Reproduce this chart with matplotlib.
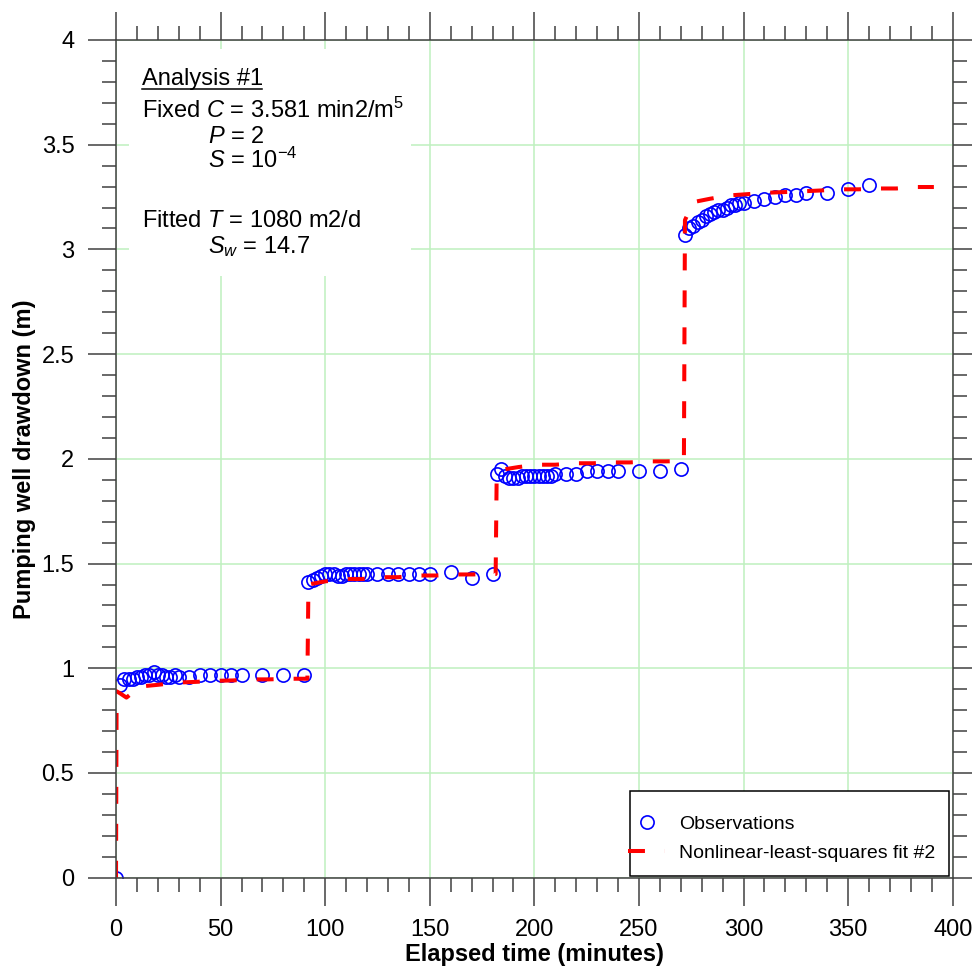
import numpy as np
import matplotlib.pyplot as plt
from matplotlib.ticker import MultipleLocator, FuncFormatter
from matplotlib.patches import Rectangle
from matplotlib.lines import Line2D

plt.rcParams['font.family'] = ['Liberation Sans', 'DejaVu Sans']
plt.rcParams['mathtext.fontset'] = 'custom'
plt.rcParams['mathtext.rm'] = 'Liberation Sans'
plt.rcParams['mathtext.it'] = 'Liberation Sans:italic'
plt.rcParams['mathtext.bf'] = 'Liberation Sans:bold'
plt.rcParams['lines.scale_dashes'] = False

# =========================
# DATA
# =========================
obs_t = [0, 2, 4, 6, 8, 10, 12, 14, 16, 18, 20, 22, 24, 26, 28, 30, 35, 40, 45, 50, 55, 60, 70, 80, 90,
         92, 94, 96, 98, 100, 102, 104, 106, 108, 110, 112, 114, 116, 118, 120, 125, 130, 135, 140, 145, 150, 160, 170, 180,
         182, 184, 186, 188, 190, 192, 194, 196, 198, 200, 202, 204, 206, 208, 210, 215, 220, 225, 230, 235, 240, 250, 260, 270,
         272, 274, 276, 278, 280, 282, 284, 286, 288, 290, 292, 294, 296, 298, 300, 305, 310, 315, 320, 325, 330, 340, 350, 360]
obs_s = [0, 0.92, 0.95, 0.95, 0.95, 0.96, 0.96, 0.97, 0.97, 0.98, 0.97, 0.97, 0.96, 0.96, 0.97, 0.96, 0.96, 0.97, 0.97, 0.97, 0.97, 0.97, 0.97, 0.97, 0.97,
         1.41, 1.42, 1.43, 1.44, 1.45, 1.45, 1.45, 1.44, 1.44, 1.45, 1.45, 1.45, 1.45, 1.45, 1.45, 1.45, 1.45, 1.45, 1.45, 1.45, 1.45, 1.46, 1.43, 1.45,
         1.93, 1.95, 1.92, 1.91, 1.91, 1.91, 1.92, 1.92, 1.92, 1.92, 1.92, 1.92, 1.92, 1.92, 1.93, 1.93, 1.93, 1.94, 1.94, 1.94, 1.94, 1.94, 1.94, 1.95,
         3.07, 3.10, 3.11, 3.13, 3.14, 3.16, 3.17, 3.18, 3.19, 3.19, 3.20, 3.21, 3.21, 3.22, 3.22, 3.23, 3.24, 3.25, 3.26, 3.26, 3.27, 3.27, 3.29, 3.31]

fit_t = [0, 0.3, 2, 5, 11.5, 20, 30, 38, 47, 56, 65, 73, 83, 91.5,
         92, 100, 109.5, 117.5, 127, 135, 144.5, 153, 162.5, 170.5, 181.5,
         182, 184.5, 192.5, 202, 210, 220, 228, 237.5, 245.5, 255.5, 263, 271.5,
         272, 276, 284, 293.5, 302, 312, 320, 329.5, 338, 347, 355, 364.5, 373, 382, 391]
fit_s = [0, 0.89, 0.88, 0.86, 0.913, 0.921, 0.932, 0.935, 0.94, 0.942, 0.947, 0.947, 0.95, 0.95,
         1.40, 1.415, 1.426, 1.426, 1.435, 1.435, 1.443, 1.443, 1.448, 1.448, 1.45,
         1.93, 1.948, 1.961, 1.972, 1.972, 1.979, 1.979, 1.983, 1.983, 1.988, 1.988, 1.99,
         3.14, 3.226, 3.242, 3.258, 3.264, 3.271, 3.274, 3.278, 3.282, 3.287, 3.287, 3.291, 3.291, 3.298, 3.298]

# =========================
# FIGURE
# =========================
W, H = 972, 973
fig = plt.figure(figsize=(W / 100, H / 100), dpi=100)
ax = fig.add_axes([116 / W, 1 - 877.7 / H, 836.7 / W, 837.7 / H])

def fx(x):
    return x / W

def fy(y):
    return 1 - y / H

ax.set_axisbelow(True)
ax.grid(True, which='major', color='#bff0bf', linewidth=1.1)

# white box behind the annotation
ax.add_patch(Rectangle((0.0155, 0.718), 0.3375, 0.271, transform=ax.transAxes,
                       facecolor='white', edgecolor='none', zorder=1))

ax.plot(obs_t, obs_s, linestyle='none', marker='o', markersize=9.5,
        markerfacecolor='none', markeredgecolor='#0000ff', markeredgewidth=1.2,
        label='Observations', zorder=3)
ax.plot(fit_t, fit_s, color='#ff0000', linewidth=2.9, dashes=(12.2, 14.4),
        dash_capstyle='butt', label='Nonlinear-least-squares fit #2', zorder=4)

ax.set_xlim(0, 400)
ax.set_ylim(0, 4)
ax.xaxis.set_major_locator(MultipleLocator(50))
ax.xaxis.set_minor_locator(MultipleLocator(10))
ax.yaxis.set_major_locator(MultipleLocator(0.5))
ax.yaxis.set_minor_locator(MultipleLocator(0.1))
ax.yaxis.set_major_formatter(FuncFormatter(lambda v, p: '%g' % v))
ax.xaxis.set_major_formatter(FuncFormatter(lambda v, p: '%g' % v))

ax.tick_params(which='both', direction='out', top=True, right=True,
               color='#404040', width=1.1, labelsize=17)
ax.tick_params(which='major', length=20, pad=10)
ax.tick_params(which='minor', length=10)
for sp in ax.spines.values():
    sp.set_color('#404040')
    sp.set_linewidth(1.1)
    sp.set_zorder(5)

ax.set_xlabel('Elapsed time (minutes)', fontsize=17, fontweight='bold', labelpad=1)
ax.set_ylabel('Pumping well drawdown (m)', fontsize=17, fontweight='bold', labelpad=4)

# legend frame drawn by hand, legend entries without frame
ax.add_patch(Rectangle((fx(630), fy(875.7)), fx(949) - fx(630), fy(790.7) - fy(875.7),
                       transform=fig.transFigure, facecolor='white', edgecolor='black',
                       linewidth=1.1, zorder=4.5, clip_on=False))
leg = ax.legend(loc='lower right', bbox_to_anchor=(0.9956, 0.0024), borderaxespad=0,
                fontsize=14, frameon=False, handlelength=1.9, handletextpad=0.7,
                borderpad=0.72, labelspacing=0.58)
leg.set_zorder(6)

# =========================
# ANNOTATION TEXT
# =========================
tsize = 17
fig.text(fx(142.3), fy(85), 'Analysis #1', fontsize=tsize, va='baseline')
fig.add_artist(Line2D([fx(142.3), fx(261.7)], [fy(89.3), fy(89.3)],
                      transform=fig.transFigure, color='black', linewidth=1.1))
fig.text(fx(142.3), fy(117.7), r'Fixed $\mathit{C}$ = 3.581 min2/m$^{5}$',
         fontsize=tsize, va='baseline')
fig.text(fx(207.7), fy(143.3), r'$\mathit{P}$ = 2', fontsize=tsize, va='baseline')
fig.text(fx(207.7), fy(168.3), r'$\mathit{S}$ = 10$^{-4}$', fontsize=tsize, va='baseline')
fig.text(fx(142.3), fy(226.7), r'Fitted $\mathit{T}$ = 1080 m2/d',
         fontsize=tsize, va='baseline')
fig.text(fx(207.7), fy(252.7), r'$\mathit{S}_{\mathit{w}}$ = 14.7',
         fontsize=tsize, va='baseline')

fig.savefig('out.png', dpi=100)
